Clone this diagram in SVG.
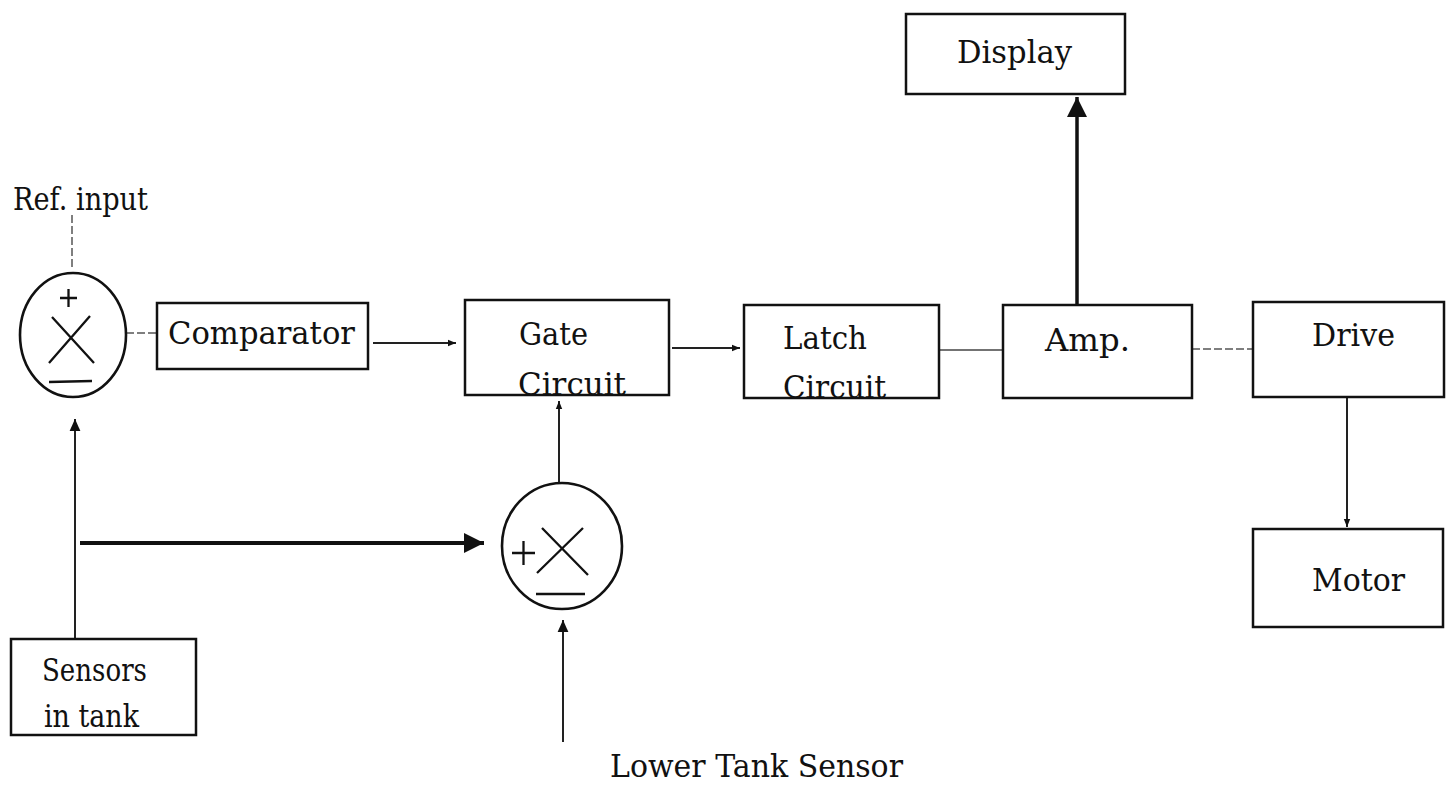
<svg xmlns="http://www.w3.org/2000/svg" width="1446" height="785" viewBox="0 0 1446 785">
<style>
.box{fill:none;stroke:#111;stroke-width:2.5}
.sum{fill:none;stroke:#111;stroke-width:2.6}
.sym{fill:none;stroke:#111;stroke-width:2.3}
.t{font-family:"DejaVu Serif","Liberation Serif",serif;font-size:31px;fill:#111}
.c{fill:none;stroke:#222;stroke-width:2}
.thin{fill:none;stroke:#555;stroke-width:1.5;stroke-dasharray:8 3}
.thick{fill:none;stroke:#111;stroke-width:4}
</style>
<defs>
<marker id="sm" viewBox="0 0 10 10" refX="10" refY="5" markerWidth="8" markerHeight="8" markerUnits="userSpaceOnUse" orient="auto"><path d="M0,1 L10,5 L0,9 Z" fill="#111"/></marker>
<marker id="md" viewBox="0 0 10 10" refX="10" refY="5" markerWidth="12" markerHeight="12" markerUnits="userSpaceOnUse" orient="auto"><path d="M0,0.5 L10,5 L0,9.5 Z" fill="#111"/></marker>
<marker id="bg" viewBox="0 0 10 10" refX="10" refY="5" markerWidth="20" markerHeight="20" markerUnits="userSpaceOnUse" orient="auto"><path d="M0,0 L10,5 L0,10 Z" fill="#111"/></marker>
</defs>
<rect width="1446" height="785" fill="#fff"/>
<g id="connectors">
<path class="thin" d="M72,215 L72,270"/>
<path class="thin" d="M126,333 L157,333"/>
<path class="c" d="M373,343 L456,343" marker-end="url(#sm)"/>
<path class="c" d="M672,348 L740,348" marker-end="url(#sm)"/>
<path class="c" style="stroke:#444;stroke-width:1.6" d="M939,350 L1003,350"/>
<path class="thin" d="M1192,349 L1253,349"/>
<path class="thick" style="stroke-width:3.5" d="M1077,305 L1077,97" marker-end="url(#bg)"/>
<path class="c" d="M1347,397 L1347,527" marker-end="url(#sm)"/>
<path class="c" d="M75,639 L75,419" marker-end="url(#md)"/>
<path class="thick" d="M80,543 L484,543" marker-end="url(#bg)"/>
<path class="c" d="M559,483 L559,401" marker-end="url(#sm)"/>
<path class="c" d="M563,742 L563,620" marker-end="url(#md)"/>
</g>
<g id="ref-input"><text class="t" x="13" y="210" textLength="135" lengthAdjust="spacingAndGlyphs">Ref. input</text></g>
<g id="sum1">
<ellipse class="sum" cx="73" cy="335" rx="53" ry="62"/>
<path class="sym" d="M60,298 H77 M68.5,289 V307"/>
<path class="sym" d="M52,317 L94,363 M49,363 L90,316"/>
<path class="sym" d="M49,382 L92,381"/>
</g>
<g id="comparator">
<rect class="box" x="157" y="303" width="211" height="66"/>
<text class="t" x="168" y="344" textLength="187" lengthAdjust="spacingAndGlyphs">Comparator</text>
</g>
<g id="gate">
<rect class="box" x="465" y="300" width="204" height="95"/>
<text class="t" x="519" y="345" textLength="69" lengthAdjust="spacingAndGlyphs">Gate</text>
<text class="t" x="518" y="395" textLength="108" lengthAdjust="spacingAndGlyphs">Circuit</text>
</g>
<g id="latch">
<rect class="box" x="744" y="305" width="195" height="93"/>
<text class="t" x="783" y="349" textLength="84" lengthAdjust="spacingAndGlyphs">Latch</text>
<text class="t" x="783" y="398" textLength="103" lengthAdjust="spacingAndGlyphs">Circuit</text>
</g>
<g id="amp">
<rect class="box" x="1003" y="305" width="189" height="93"/>
<text class="t" x="1045" y="351" textLength="85" lengthAdjust="spacingAndGlyphs">Amp.</text>
</g>
<g id="display">
<rect class="box" x="906" y="14" width="219" height="80"/>
<text class="t" x="957" y="63" textLength="115" lengthAdjust="spacingAndGlyphs">Display</text>
</g>
<g id="drive">
<rect class="box" x="1253" y="302" width="191" height="95"/>
<text class="t" x="1312" y="346" textLength="83" lengthAdjust="spacingAndGlyphs">Drive</text>
</g>
<g id="motor">
<rect class="box" x="1253" y="529" width="190" height="98"/>
<text class="t" x="1312" y="591" textLength="93" lengthAdjust="spacingAndGlyphs">Motor</text>
</g>
<g id="sensors">
<rect class="box" x="11" y="639" width="185" height="96"/>
<text class="t" x="42" y="681" textLength="105" lengthAdjust="spacingAndGlyphs">Sensors</text>
<text class="t" x="44" y="727" textLength="95" lengthAdjust="spacingAndGlyphs">in tank</text>
</g>
<g id="sum2">
<ellipse class="sum" cx="562" cy="546" rx="60" ry="63"/>
<path class="sym" d="M512,553 H535 M523.5,541 V565"/>
<path class="sym" d="M542,528 L588,575 M537,573 L583,528"/>
<path class="sym" d="M536,594 L585,594"/>
</g>
<g id="lower-tank-sensor"><text class="t" x="610" y="777" textLength="293" lengthAdjust="spacingAndGlyphs">Lower Tank Sensor</text></g>
</svg>
